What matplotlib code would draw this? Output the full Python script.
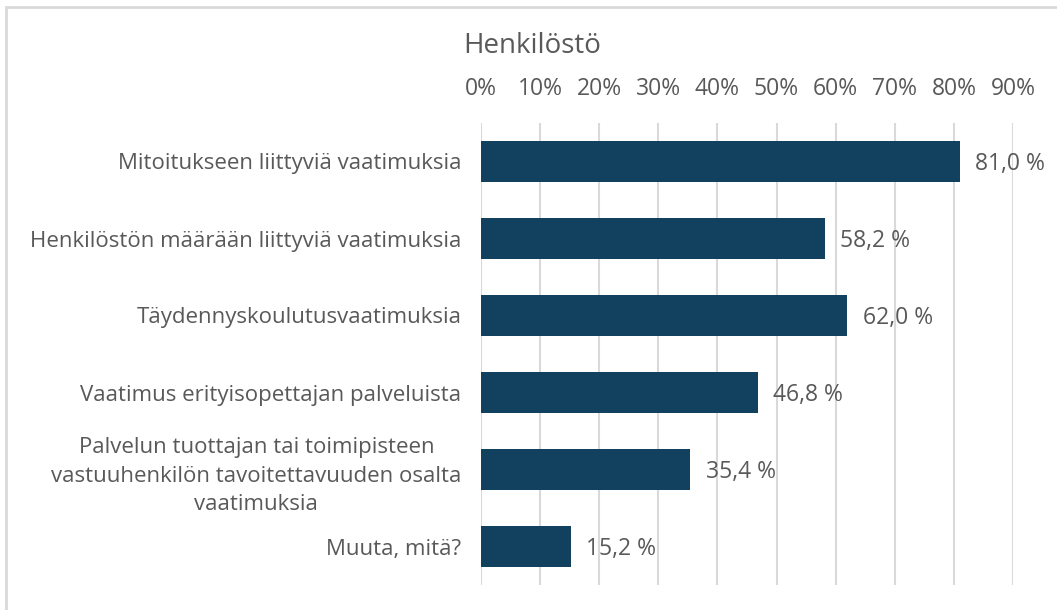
import matplotlib
matplotlib.use('Agg')
import matplotlib.pyplot as plt
from matplotlib.patches import Rectangle
from matplotlib.ticker import FuncFormatter

# data
categories = [
    'Mitoitukseen liittyviä vaatimuksia',
    'Henkilöstön määrään liittyviä vaatimuksia',
    'Täydennyskoulutusvaatimuksia',
    'Vaatimus erityisopettajan palveluista',
    'Palvelun tuottajan tai toimipisteen\nvastuuhenkilön tavoitettavuuden osalta\nvaatimuksia',
    'Muuta, mitä?',
]
values = [81.0, 58.2, 62.0, 46.8, 35.4, 15.2]
xticks = [0, 10, 20, 30, 40, 50, 60, 70, 80, 90]
title = 'Henkilöstö'

BAR = '#12405f'
TXT = '#595959'
GRID = '#d9d9d9'

plt.rcParams['font.family'] = ['Open Sans', 'DejaVu Sans']

fig = plt.figure(figsize=(10.57, 6.10), dpi=100)
ax = fig.add_axes([481/1057, 1 - 585/610, (1013 - 481)/1057, (585 - 123)/610])

ypos = list(range(len(categories)))
ax.barh(ypos, values, height=0.52, color=BAR, zorder=3)
for y, v in zip(ypos, values):
    ax.text(v + 2.6, y + 0.03, f'{v:.1f} %'.replace('.', ','), va='center', ha='left',
            fontsize=16.5, color=TXT, zorder=4)

ax.set_xlim(0, 90)
ax.set_ylim(len(categories) - 0.5, -0.5)
ax.set_xticks(xticks)
ax.xaxis.set_major_formatter(FuncFormatter(lambda x, p: f'{x:.0f}%'))
ax.xaxis.tick_top()
ax.tick_params(axis='x', length=0, pad=16, labelsize=16.5, labelcolor=TXT)
ax.set_yticks(ypos)
ax.set_yticklabels(categories, fontsize=16, color=TXT, multialignment='center',
                   linespacing=1.5)
ax.tick_params(axis='y', length=0, pad=14)
ax.grid(axis='x', color=GRID, linewidth=1.5, zorder=0)
for s in ax.spines.values():
    s.set_visible(False)

fig.text(463/1057, 1 - 46/610, title, ha='left', va='center', fontsize=20, color=TXT)

fig.patches.append(Rectangle((6/1057, -0.1), 1.2, 1 - 7/610 + 0.1, transform=fig.transFigure,
                             fill=False, edgecolor=GRID, linewidth=2))

fig.savefig('out.png', dpi=100)
